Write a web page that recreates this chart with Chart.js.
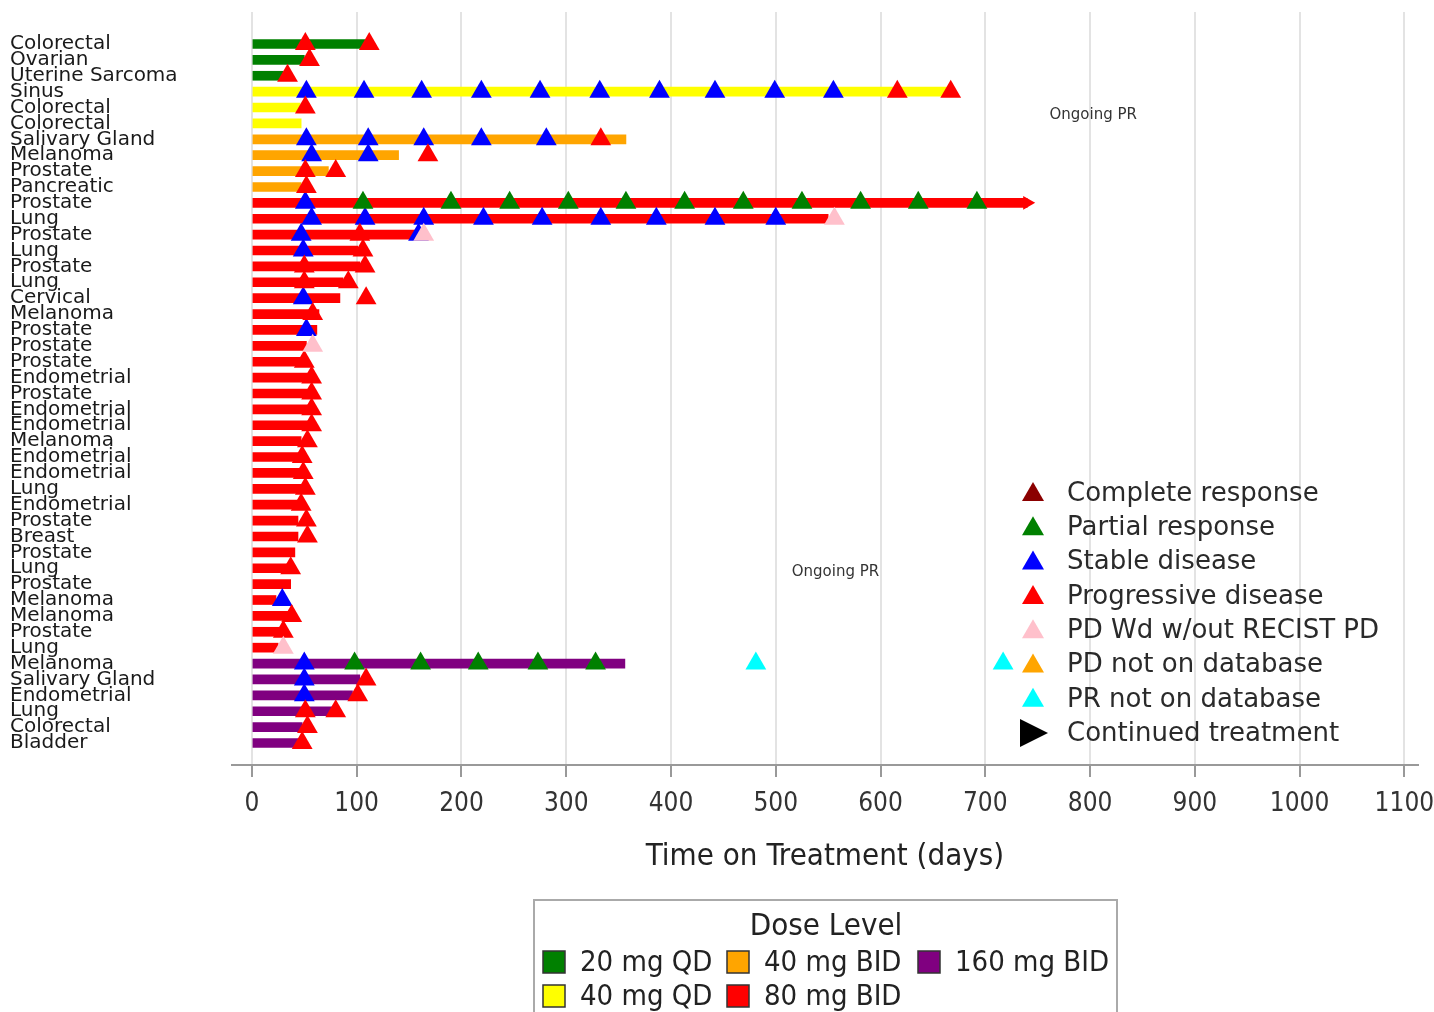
<!DOCTYPE html>
<html>
<head>
<meta charset="utf-8">
<title>Time on Treatment swimmer plot</title>
<script src="https://cdn.jsdelivr.net/npm/chart.js@4.4.1/dist/chart.umd.min.js"></script>
<style>
  html, body { margin: 0; padding: 0; background: #fff; }
</style>
</head>
<body>
<canvas id="swimChart" width="1434" height="1012"></canvas>
<script>

// one row per patient, top to bottom
const tumorTypes = [
  'Colorectal', 'Ovarian', 'Uterine Sarcoma', 'Sinus', 'Colorectal', 'Colorectal',
  'Salivary Gland', 'Melanoma', 'Prostate', 'Pancreatic', 'Prostate', 'Lung',
  'Prostate', 'Lung', 'Prostate', 'Lung', 'Cervical', 'Melanoma', 'Prostate',
  'Prostate', 'Prostate', 'Endometrial', 'Prostate', 'Endometrial', 'Endometrial',
  'Melanoma', 'Endometrial', 'Endometrial', 'Lung', 'Endometrial', 'Prostate',
  'Breast', 'Prostate', 'Lung', 'Prostate', 'Melanoma', 'Melanoma', 'Prostate',
  'Lung', 'Melanoma', 'Salivary Gland', 'Endometrial', 'Lung', 'Colorectal', 'Bladder'
];

const doseLevels = ['20 mg QD', '40 mg QD', '40 mg BID', '80 mg BID', '160 mg BID'];
const doseColors = ['#008000', '#ffff00', '#ffa500', '#ff0000', '#800080'];

// index into doseLevels for every patient
const patientDose = [
  0, 0, 0, 1, 1, 1, 2, 2, 2, 2,
  3, 3, 3, 3, 3, 3, 3, 3, 3, 3, 3, 3, 3, 3, 3, 3, 3, 3, 3, 3, 3, 3, 3, 3, 3, 3, 3, 3, 3,
  4, 4, 4, 4, 4, 4
];

const daysOnTreatment = [
  108, 50, 30, 666, 46, 47, 357, 140, 73, 47,
  740, 550, 157, 101, 103, 87, 84, 64, 62, 52, 50, 60, 60, 60, 58,
  47, 47, 47, 47, 45, 44, 44, 41, 36, 37, 23, 36, 28, 25,
  356, 103, 96, 77, 48, 44
];

// rows still on treatment (arrow at bar end)
const continuedTreatment = [10];

// assessments as [row, day]
const completeResponse = [];
const partialResponse = [
  [10, 106], [10, 190], [10, 246], [10, 302], [10, 357], [10, 413], [10, 469],
  [10, 525], [10, 581], [10, 636], [10, 692],
  [39, 98], [39, 161], [39, 216], [39, 273], [39, 328]
];
const stableDisease = [
  [3, 52], [3, 107], [3, 162], [3, 219], [3, 275], [3, 332], [3, 389], [3, 442], [3, 499], [3, 555],
  [6, 52], [6, 111], [6, 164], [6, 219], [6, 281],
  [7, 57], [7, 111], [10, 51],
  [11, 57], [11, 108], [11, 164], [11, 221], [11, 277], [11, 333], [11, 386], [11, 442], [11, 500],
  [12, 47], [12, 159], [13, 49], [16, 49], [18, 52], [35, 29],
  [39, 50], [40, 50], [41, 50]
];
const progressiveDisease = [
  [0, 51], [0, 112], [1, 55], [2, 34], [3, 616], [3, 667], [4, 51], [6, 333], [7, 168],
  [8, 51], [8, 80], [9, 52], [12, 103], [13, 106], [14, 50], [14, 108], [15, 50], [15, 92],
  [16, 109], [17, 58], [20, 50], [21, 57], [22, 57], [23, 57], [24, 57], [25, 53], [26, 48],
  [27, 49], [28, 51], [29, 47], [30, 52], [31, 53], [33, 37], [36, 38], [37, 30],
  [40, 109], [41, 101], [42, 51], [42, 80], [43, 53], [44, 48]
];
const pdWithoutRecist = [[11, 556], [12, 164], [19, 58], [38, 30]];
const pdNotOnDatabase = [];
const prNotOnDatabase = [[39, 481], [39, 717]];

const dayTicks = [0, 100, 200, 300, 400, 500, 600, 700, 800, 900, 1000, 1100];

const ongoingNotes = [
  { text: 'Ongoing PR', day: 803, row: 4.47 },
  { text: 'Ongoing PR', day: 557, row: 33.24 }
];

const responseTypes = [
  'Complete response', 'Partial response', 'Stable disease', 'Progressive disease',
  'PD Wd w/out RECIST PD', 'PD not on database', 'PR not on database', 'Continued treatment'
];
const responseColors = ['#8b0000', '#008000', '#0000ff', '#ff0000', '#ffc0cb', '#ffa500', '#00ffff', '#000000'];

const sans = "'DejaVu Sans', sans-serif";
const narrow = "'DejaVu Sans Condensed', 'DejaVu Sans', sans-serif";

function triangles(points, color, order) {
  return {
    type: 'scatter',
    data: points.map(p => ({ x: p[1], y: p[0] })),
    pointStyle: 'triangle',
    pointRadius: 12,
    pointHoverRadius: 12,
    backgroundColor: color,
    borderWidth: 0,
    order: order
  };
}

// keep the plot area where the reference has it
function noEdgePadding(axis) {
  axis.paddingTop = 0;
  axis.paddingBottom = 0;
  axis.paddingLeft = 0;
  axis.paddingRight = 0;
}

const extras = {
  id: 'extras',
  afterDraw(chart) {
    const c = chart.ctx;
    const xs = chart.scales.x;
    const ys = chart.scales.y;
    c.save();

    c.font = '15px ' + sans;
    c.fillStyle = '#333';
    c.textAlign = 'center';
    c.textBaseline = 'middle';
    ongoingNotes.forEach(n => c.fillText(n.text, xs.getPixelForValue(n.day), ys.getPixelForValue(n.row)));

    // response legend
    c.font = '26px ' + sans;
    c.textAlign = 'left';
    responseTypes.forEach((name, i) => {
      const y = 493 + i * 34.3;
      c.fillStyle = responseColors[i];
      c.beginPath();
      if (i === responseTypes.length - 1) {
        c.moveTo(1020, y - 14);
        c.lineTo(1048, y);
        c.lineTo(1020, y + 14);
      } else {
        c.moveTo(1033, y - 11);
        c.lineTo(1044, y + 8);
        c.lineTo(1022, y + 8);
      }
      c.closePath();
      c.fill();
      c.fillStyle = '#2a2a2a';
      c.fillText(name, 1067, y + 1);
    });

    // dose legend
    c.strokeStyle = '#aaa';
    c.lineWidth = 2;
    c.strokeRect(534, 900, 583, 140);
    c.fillStyle = '#222';
    c.textAlign = 'center';
    c.font = '31px ' + narrow;
    c.fillText('Dose Level', 826, 927);
    c.font = '29px ' + narrow;
    c.textAlign = 'left';
    const colX = [543, 727, 918];
    doseLevels.forEach((name, i) => {
      const col = Math.floor(i / 2);
      const row = i % 2;
      const x = colX[col];
      const y = 962 + row * 34;
      c.fillStyle = doseColors[i];
      c.fillRect(x, y - 11, 22, 22);
      c.strokeStyle = '#333';
      c.lineWidth = 1.5;
      c.strokeRect(x, y - 11, 22, 22);
      c.fillStyle = '#222';
      c.fillText(name, x + 37, y + 1);
    });

    c.restore();
  }
};

const ctx = document.getElementById('swimChart').getContext('2d');

const chart = new Chart(ctx, {
  type: 'scatter',
  data: {
    datasets: [
      {
        type: 'bar',
        indexAxis: 'y',
        data: daysOnTreatment.map((d, i) => ({ x: [0, d], y: i })),
        backgroundColor: patientDose.map(d => doseColors[d]),
        barThickness: 9,
        borderWidth: 0,
        order: 100
      },
      triangles(stableDisease, '#0000ff', 6),
      triangles(partialResponse, '#008000', 5),
      triangles(completeResponse, '#8b0000', 5),
      triangles(progressiveDisease, '#ff0000', 4),
      triangles(pdWithoutRecist, '#ffc0cb', 3),
      triangles(pdNotOnDatabase, '#ffa500', 2),
      triangles(prNotOnDatabase, '#00ffff', 2),
      {
        type: 'scatter',
        data: continuedTreatment.map(r => ({ x: daysOnTreatment[r], y: r })),
        pointStyle: 'triangle',
        rotation: 90,
        pointRadius: 8,
        backgroundColor: '#ff0000',
        borderWidth: 0,
        order: 1
      }
    ]
  },
  options: {
    responsive: false,
    animation: false,
    events: [],
    layout: {
      padding: { left: 10, top: 0, right: 16, bottom: 0 }
    },
    plugins: {
      legend: { display: false },
      tooltip: { enabled: false }
    },
    scales: {
      x: {
        type: 'linear',
        min: -19,
        max: 1113,
        afterBuildTicks: axis => { axis.ticks = dayTicks.map(v => ({ value: v })); },
        afterFit: axis => { axis.height = 247; noEdgePadding(axis); },
        grid: {
          color: '#e3e3e3',
          lineWidth: 2,
          tickColor: '#999',
          tickLength: 12,
          tickWidth: 2
        },
        border: { color: '#999', width: 2 },
        ticks: {
          font: { family: narrow, size: 26 },
          color: '#333',
          padding: 12,
          maxRotation: 0,
          callback: v => String(v)
        },
        title: {
          display: true,
          text: 'Time on Treatment (days)',
          font: { family: narrow, size: 31 },
          color: '#222',
          padding: { top: 0, bottom: 136 }
        }
      },
      y: {
        type: 'linear',
        reverse: true,
        offset: false,
        min: -2.014,
        max: 45.386,
        afterBuildTicks: axis => { axis.ticks = tumorTypes.map((t, i) => ({ value: i })); },
        afterFit: axis => { axis.width = 222; noEdgePadding(axis); },
        grid: { display: false, offset: false },
        border: { display: false },
        ticks: {
          autoSkip: false,
          crossAlign: 'far',
          font: { family: sans, size: 20 },
          color: '#1a1a1a',
          callback: v => tumorTypes[v]
        }
      }
    }
  },
  plugins: [extras]
});
</script>
</body>
</html>
